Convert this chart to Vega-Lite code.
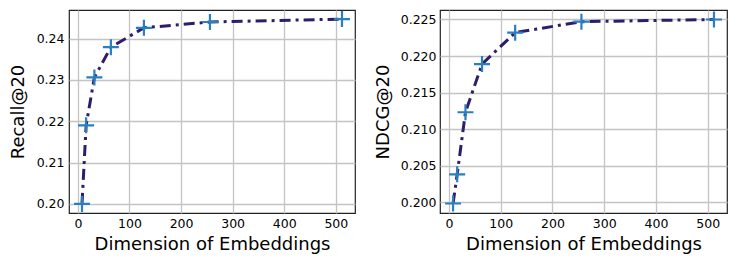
{
  "$schema": "https://vega.github.io/schema/vega-lite/v6.json",
  "padding": {"left": 8, "top": 6, "right": 0, "bottom": 0},
  "background": "white",
  "spacing": 17,
  "config": {
    "view": {"stroke": "#222222", "strokeWidth": 1.2},
    "font": "DejaVu Sans",
    "axis": {
      "grid": true,
      "gridColor": "#c4c4c4",
      "gridWidth": 1.3,
      "ticks": false,
      "domain": false,
      "labelFont": "DejaVu Sans",
      "labelFontSize": 12.5,
      "labelColor": "#000000",
      "titleFont": "DejaVu Sans",
      "titleFontSize": 18,
      "titleFontWeight": "normal",
      "titleColor": "#000000"
    }
  },
  "datasets": {
    "results": [
      {"dim": 8, "recall": 0.2000, "ndcg": 0.1998},
      {"dim": 16, "recall": 0.2190, "ndcg": 0.2038},
      {"dim": 32, "recall": 0.2306, "ndcg": 0.2123},
      {"dim": 64, "recall": 0.2379, "ndcg": 0.2189},
      {"dim": 128, "recall": 0.2426, "ndcg": 0.2232},
      {"dim": 256, "recall": 0.2440, "ndcg": 0.2247},
      {"dim": 512, "recall": 0.2447, "ndcg": 0.2250}
    ]
  },
  "hconcat": [
    {
      "width": 286,
      "height": 203,
      "data": {"name": "results"},
      "encoding": {
        "x": {"field": "dim", "type": "quantitative", "title": "Dimension of Embeddings",
              "scale": {"domain": [-17.2, 537.2], "nice": false, "zero": false},
              "axis": {"values": [0, 100, 200, 300, 400, 500], "labelPadding": 4, "titlePadding": 6}},
        "y": {"field": "recall", "type": "quantitative", "title": "Recall@20",
              "scale": {"domain": [0.1978, 0.2469], "nice": false, "zero": false},
              "axis": {"values": [0.20, 0.21, 0.22, 0.23, 0.24], "format": ".2f", "labelPadding": 5, "titlePadding": 9}}
      },
      "layer": [
        {"mark": {"type": "line", "color": "#2d1d6b", "strokeWidth": 3, "strokeDash": [11, 5, 3, 5]}},
        {"mark": {"type": "point", "shape": "M-1,0L1,0M0,-1L0,1", "filled": false, "stroke": "#2a7fc0", "strokeWidth": 2.2, "size": 256, "opacity": 1}}
      ]
    },
    {
      "width": 287,
      "height": 203,
      "data": {"name": "results"},
      "encoding": {
        "x": {"field": "dim", "type": "quantitative", "title": "Dimension of Embeddings",
              "scale": {"domain": [-17.2, 537.2], "nice": false, "zero": false},
              "axis": {"values": [0, 100, 200, 300, 400, 500], "labelPadding": 4, "titlePadding": 6}},
        "y": {"field": "ndcg", "type": "quantitative", "title": "NDCG@20",
              "scale": {"domain": [0.1985, 0.2263], "nice": false, "zero": false},
              "axis": {"values": [0.200, 0.205, 0.210, 0.215, 0.220, 0.225], "format": ".3f", "labelPadding": 4, "titlePadding": 8}}
      },
      "layer": [
        {"mark": {"type": "line", "color": "#2d1d6b", "strokeWidth": 3, "strokeDash": [11, 5, 3, 5]}},
        {"mark": {"type": "point", "shape": "M-1,0L1,0M0,-1L0,1", "filled": false, "stroke": "#2a7fc0", "strokeWidth": 2.2, "size": 256, "opacity": 1}}
      ]
    }
  ]
}
